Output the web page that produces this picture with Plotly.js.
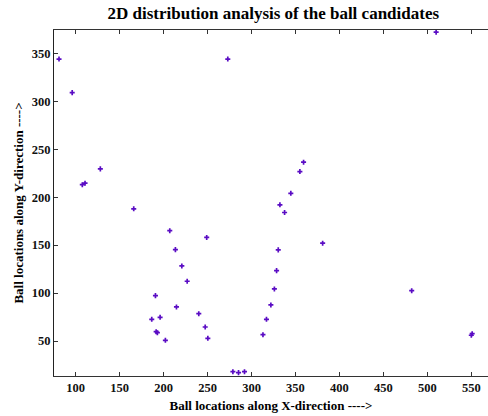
<!DOCTYPE html>
<html>
<head>
<meta charset="utf-8">
<script src="https://cdn.plot.ly/plotly-3.0.1.min.js"></script>
<style>html,body{margin:0;padding:0;background:#fff;}#chart{width:488px;height:416px;}</style>
</head>
<body>
<div id="chart"></div>
<script>
var xValues = [81, 96, 107.5, 110.6, 128, 166, 273, 207, 249, 213.4, 220.7, 226.8, 190.7, 214.6, 186.5, 196, 240, 247.3, 191.5, 192.9, 202, 250.3, 278.8, 285.2, 292, 313, 317, 322, 326, 328.5, 330.4, 332.3, 337.6, 344.7, 355, 359.2, 380.9, 482.2, 550, 551, 510];
var yValues = [344, 309, 213, 214.6, 229.5, 187.8, 344, 165, 158, 145.3, 128.3, 112.3, 97.3, 85.5, 72.6, 74.7, 78.5, 64.6, 59.7, 58.7, 50.7, 52.8, 18, 17, 18, 56.6, 72.6, 87.6, 104.3, 123.4, 145, 192, 184, 204, 226.7, 236.5, 152, 102.5, 56, 57.6, 372];
var xTicks = [100, 150, 200, 250, 300, 350, 400, 450, 500, 550];
var yTicks = [50, 100, 150, 200, 250, 300, 350];

var serif = "Liberation Serif, Times New Roman, serif";
var trace = {
  x: xValues, y: yValues, type: 'scatter', mode: 'markers',
  marker: {symbol: 'cross', size: 4.2, color: '#5a0cc4', line: {width: 0}},
  hoverinfo: 'x+y'
};
var layout = {
  width: 488, height: 416,
  margin: {l: 54, r: 0, t: 30, b: 40},
  paper_bgcolor: '#fff', plot_bgcolor: '#fff',
  showlegend: false,
  title: {text: '<b>2D distribution analysis of the ball candidates</b>', font: {family: serif, size: 17, color: '#000'}, x: 0.56, xanchor: 'center', y: 0.968, yanchor: 'middle'},
  xaxis: {
    range: [75.3, 569], tickvals: xTicks, ticktext: xTicks.map(function(v){return '<b>' + v + '</b>';}),
    ticks: 'inside', ticklen: 4, tickcolor: '#333', showline: true, linecolor: '#333', linewidth: 1,
    mirror: 'ticks', showgrid: false, zeroline: false,
    tickfont: {family: serif, size: 12.5, color: '#111'},
    title: {text: '<b>Ball locations along X-direction ----></b>', font: {family: serif, size: 13, color: '#000'}, standoff: 6}
  },
  yaxis: {
    range: [13.5, 374.3], tickvals: yTicks, ticktext: yTicks.map(function(v){return '<b>' + v + '</b>';}),
    ticks: 'inside', ticklen: 4, tickcolor: '#333', showline: true, linecolor: '#222', linewidth: 1,
    showgrid: false, zeroline: false,
    tickfont: {family: serif, size: 12.5, color: '#111'},
    title: {text: '<b>Ball locations along Y-direction ----></b>', font: {family: serif, size: 13, color: '#000'}, standoff: 5}
  }
};
Plotly.newPlot('chart', [trace], layout, {displayModeBar: false, staticPlot: true});
</script>
</body>
</html>
